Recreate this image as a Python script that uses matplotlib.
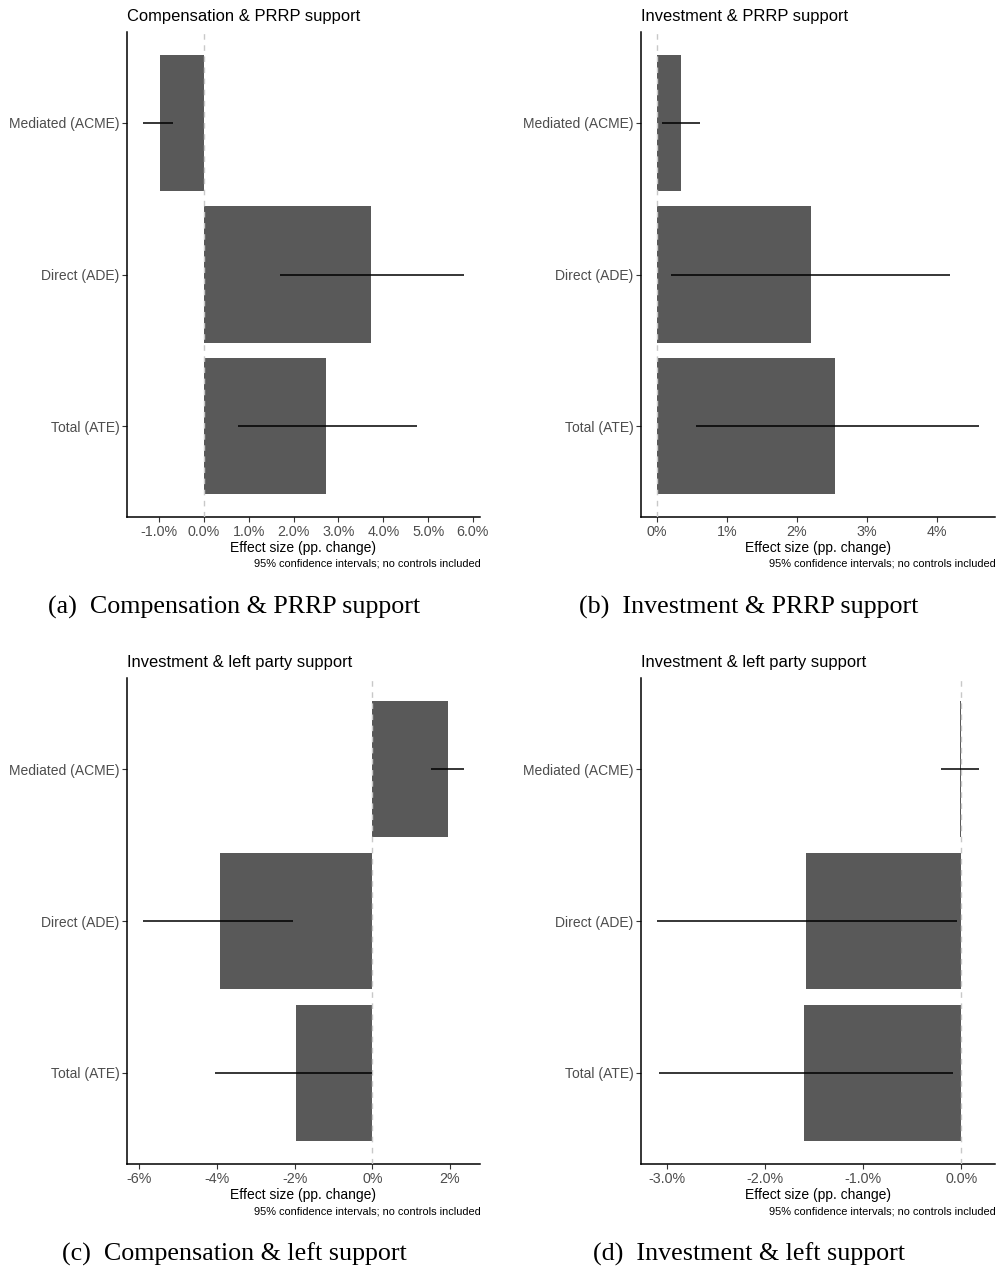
import numpy as np
import matplotlib
matplotlib.use("Agg")
import matplotlib.pyplot as plt

plt.rcParams['font.family'] = ['Liberation Sans', 'DejaVu Sans']

categories = ["Mediated (ACME)", "Direct (ADE)", "Total (ATE)"]

# effect sizes in percent (estimate, 95% CI low, 95% CI high)
comp_prrp_est = [-0.98, 3.73, 2.73]
comp_prrp_lo = [-1.36, 1.69, 0.76]
comp_prrp_hi = [-0.69, 5.80, 4.76]

inv_prrp_est = [0.34, 2.20, 2.54]
inv_prrp_lo = [0.07, 0.20, 0.56]
inv_prrp_hi = [0.61, 4.19, 4.60]

comp_left_est = [1.95, -3.92, -1.97]
comp_left_lo = [1.51, -5.90, -4.05]
comp_left_hi = [2.36, -2.03, 0.00]

inv_left_est = [-0.01, -1.58, -1.60]
inv_left_lo = [-0.21, -3.10, -3.08]
inv_left_hi = [0.18, -0.04, -0.08]

W, H = 999, 1272
fig = plt.figure(figsize=(W / 100, H / 100), dpi=100)


def px_rect(left, top, right, bottom):
    return [left / W, 1 - bottom / H, (right - left) / W, (bottom - top) / H]


def draw_panel(rect, title, est, lo, hi, ticks, fmt, subcap, subcap_x, subcap_y):
    ax = fig.add_axes(px_rect(*rect))
    y = np.array([3, 2, 1])
    ax.axvline(0, color="#c8c8c8", lw=1, ls=(0, (4, 4)), zorder=3)
    ax.barh(y, est, height=0.9, color="#595959", zorder=2)
    ax.hlines(y, lo, hi, color="black", lw=1.1, zorder=4)
    allv = np.array(lo + hi + est + [0])
    span = allv.max() - allv.min()
    ax.set_xlim(allv.min() - 0.05 * span, allv.max() + 0.05 * span)
    ax.set_ylim(0.4, 3.6)
    ax.set_yticks(y)
    ax.set_yticklabels(categories, fontsize=10)
    ax.set_xticks(ticks)
    ax.set_xticklabels([fmt.format(t) for t in ticks], fontsize=10.3)
    for s in ["top", "right"]:
        ax.spines[s].set_visible(False)
    for s in ["left", "bottom"]:
        ax.spines[s].set_linewidth(1.1)
    ax.tick_params(axis="both", colors="#333333", labelcolor="#4d4d4d",
                   length=3.5, width=0.8, pad=2)
    ax.set_xlabel("Effect size (pp. change)", fontsize=10, labelpad=2)
    left, top, right, bottom = rect
    fig.text(left / W, 1 - 16 / H - (top - 32) / H, title, fontsize=11.9,
             ha="left", va="center")
    fig.text((right + 1) / W, 1 - (bottom + 47) / H,
             "95% confidence intervals; no controls included",
             fontsize=7.9, ha="right", va="center")
    fig.text(subcap_x / W, 1 - subcap_y / H, subcap, fontsize=18.7,
             family="Liberation Serif", ha="center", va="center")
    return ax


draw_panel((127, 32, 480, 517), "Compensation & PRRP support",
           comp_prrp_est, comp_prrp_lo, comp_prrp_hi,
           [-1, 0, 1, 2, 3, 4, 5, 6], "{:.1f}%",
           "(a)  Compensation & PRRP support", 234, 607)
draw_panel((641, 32, 995, 517), "Investment & PRRP support",
           inv_prrp_est, inv_prrp_lo, inv_prrp_hi,
           [0, 1, 2, 3, 4], "{:.0f}%",
           "(b)  Investment & PRRP support", 749, 607)
draw_panel((127, 678, 480, 1164), "Investment & left party support",
           comp_left_est, comp_left_lo, comp_left_hi,
           [-6, -4, -2, 0, 2], "{:.0f}%",
           "(c)  Compensation & left support", 234, 1254)
draw_panel((641, 678, 995, 1164), "Investment & left party support",
           inv_left_est, inv_left_lo, inv_left_hi,
           [-3, -2, -1, 0], "{:.1f}%",
           "(d)  Investment & left support", 749, 1254)

fig.savefig("out.png", dpi=100)
